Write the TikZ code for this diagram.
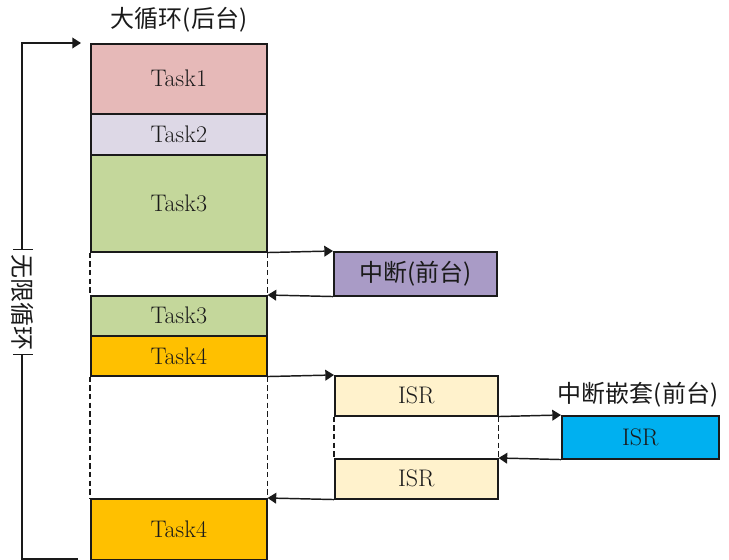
\documentclass[tikz,border=0pt]{standalone}
\usepackage{fontspec}
\newfontfamily\cjk{Noto Sans CJK SC}
\usetikzlibrary{arrows.meta}
\definecolor{cone}{HTML}{E6B9B8}
\definecolor{ctwo}{HTML}{DDD8E6}
\definecolor{cthree}{HTML}{C4D79B}
\definecolor{cfour}{HTML}{FFC000}
\definecolor{cint}{HTML}{A99BC6}
\definecolor{cisr}{HTML}{FFF2CC}
\definecolor{cblue}{HTML}{00B0F0}
\definecolor{ink}{HTML}{1A1A1A}
\tikzset{
  box/.style={draw=ink, line width=1.15pt, anchor=north west, inner sep=0pt,
    text=ink, font=\fontsize{18}{21}\selectfont},
  cjkbox/.style={box, font=\cjk\fontsize{18}{21}\selectfont},
  arr/.style={draw=ink, line width=1.1pt, -{Triangle[length=6.5pt,width=8pt]}},
  dashln/.style={draw=ink, line width=1.1pt, dash pattern=on 4pt off 2.5pt},
  lbl/.style={text=ink, font=\cjk\fontsize{18}{21}\selectfont, inner sep=0pt}
}
\begin{document}
\begin{tikzpicture}[x=0.75pt, y=-0.75pt]
\useasboundingbox (0,0) rectangle (729,560);
% background (left) column
\node[box, fill=cone, minimum width={176*0.75pt}, minimum height={70*0.75pt}] (t1) at (90,43) {Task1};
\node[box, fill=ctwo, minimum width={176*0.75pt}, minimum height={41*0.75pt}] (t2) at (90,113) {Task2};
\node[box, fill=cthree, minimum width={176*0.75pt}, minimum height={97*0.75pt}] (t3) at (90,154) {Task3};
\node[box, fill=cthree, minimum width={176*0.75pt}, minimum height={40*0.75pt}] (t3b) at (90,295) {Task3};
\node[box, fill=cfour, minimum width={176*0.75pt}, minimum height={40*0.75pt}] (t4) at (90,335) {Task4};
\node[box, fill=cfour, minimum width={176*0.75pt}, minimum height={61*0.75pt}] (t4b) at (90,498) {Task4};
% interrupt boxes
\node[cjkbox, fill=cint, minimum width={163*0.75pt}, minimum height={44*0.75pt}] (int) at (333,251) {中断(前台)};
\node[box, fill=cisr, minimum width={163*0.75pt}, minimum height={40*0.75pt}] (isra) at (334,375) {ISR};
\node[box, fill=cisr, minimum width={163*0.75pt}, minimum height={40*0.75pt}] (isrb) at (334,458) {ISR};
\node[box, fill=cblue, minimum width={157*0.75pt}, minimum height={43*0.75pt}] (nest) at (561,415) {ISR};
% titles
\node[lbl] (title) at (179,20) {大循环(后台)};
\node[lbl] (nestlbl) at (638,395) {中断嵌套(前台)};
% dashed gaps
\draw[dashln] (t3.south west) -- (t3b.north west);
\draw[dashln] (t3.south east) -- (t3b.north east);
\draw[dashln] (t4.south west) -- (t4b.north west);
\draw[dashln] (t4.south east) -- (t4b.north east);
\draw[dashln] (isra.south west) -- (isrb.north west);
\draw[dashln] (isra.south east) -- (isrb.north east);
% arrows
\draw[arr] (t3.south east) -- (int.north west);
\draw[arr] (int.south west) -- (t3b.north east);
\draw[arr] (t4.south east) -- (isra.north west);
\draw[arr] (isra.south east) -- (nest.north west);
\draw[arr] (nest.south west) -- (isrb.north east);
\draw[arr] (isrb.south west) -- (t4b.north east);
% infinite loop
\coordinate (lb) at (78,559);
\coordinate (lc) at (22,559);
\coordinate (ltc) at (22,43);
\coordinate (lt) at (81,43);
\draw[arr] (lb) -- (lc) -- (ltc) -- (lt);
\node[lbl, fill=white, rotate=-90, inner xsep={4*0.75pt}, inner ysep={2*0.75pt}] (loop) at (23,302) {无限循环};
\draw[draw=ink, line width=1.1pt] (loop.west) ++(-10,0) -- ++(20,0);
\draw[draw=ink, line width=1.1pt] (loop.east) ++(-10,0) -- ++(20,0);
\end{tikzpicture}
\end{document}
